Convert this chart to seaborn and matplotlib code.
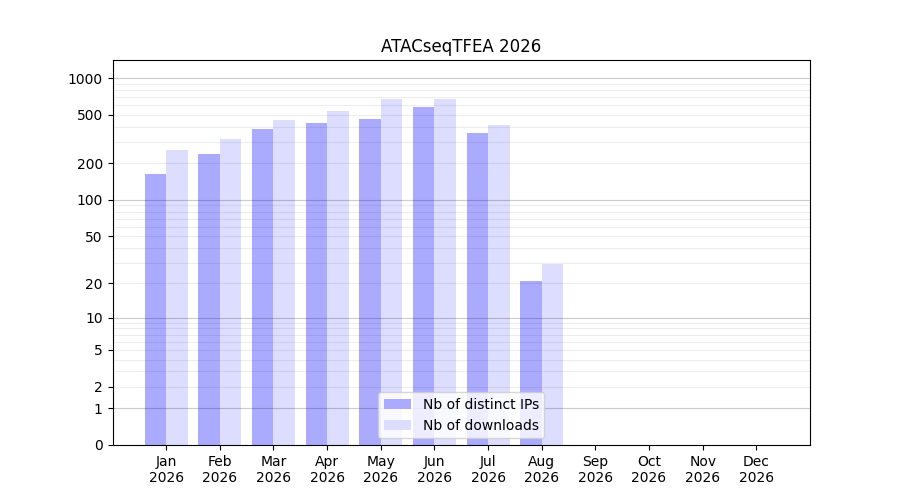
import numpy as np
import pandas as pd
import matplotlib
matplotlib.use("Agg")
import matplotlib.pyplot as plt
import seaborn as sns

# data
months = ["Jan", "Feb", "Mar", "Apr", "May", "Jun", "Jul", "Aug", "Sep", "Oct", "Nov", "Dec"]
year = "2026"
nb_ips = [164, 238, 383, 429, 462, 580, 355, 21, 0, 0, 0, 0]
nb_downloads = [257, 317, 453, 537, 674, 674, 413, 29, 0, 0, 0, 0]

ytick_vals = [0, 1, 2, 5, 10, 20, 50, 100, 200, 500, 1000]
major_grid = [1, 10, 100, 1000]
minor_grid = [m * 10 ** k for k in range(3) for m in range(2, 10)]

df = pd.DataFrame({
    "month": months * 2,
    "value": nb_ips + nb_downloads,
    "kind": ["Nb of distinct IPs"] * 12 + ["Nb of downloads"] * 12,
})

fig, ax = plt.subplots(figsize=(9, 5), dpi=100)
sns.barplot(data=df, x="month", y="value", hue="kind",
            palette=["#aaaaff", "#ddddff"], saturation=1, gap=0,
            width=0.8, ax=ax, errorbar=None)

ax.set_yscale("function", functions=(lambda v: np.log10(1 + np.clip(v, 0, None)),
                                     lambda t: 10 ** t - 1))
ax.set_ylim(0, 1405)
ax.set_xlim(-1, 12)
ax.set_yticks(ytick_vals)
ax.set_yticklabels([str(v) for v in ytick_vals])
ax.yaxis.set_minor_locator(matplotlib.ticker.NullLocator())
ax.set_xticks(range(len(months)))
ax.set_xticklabels([m + "\n" + year for m in months])

for v in minor_grid:
    ax.axhline(v, color="black", alpha=0.07, lw=0.8, zorder=3)
for v in major_grid:
    ax.axhline(v, color="black", alpha=0.2, lw=0.8, zorder=3)

ax.set_xlabel("")
ax.set_ylabel("")
ax.set_title("ATACseqTFEA 2026")
ax.legend(loc="lower center", title=None)

plt.subplots_adjust(left=0.125, right=0.9, top=0.88, bottom=0.11)
plt.savefig("out.png", dpi=100)
